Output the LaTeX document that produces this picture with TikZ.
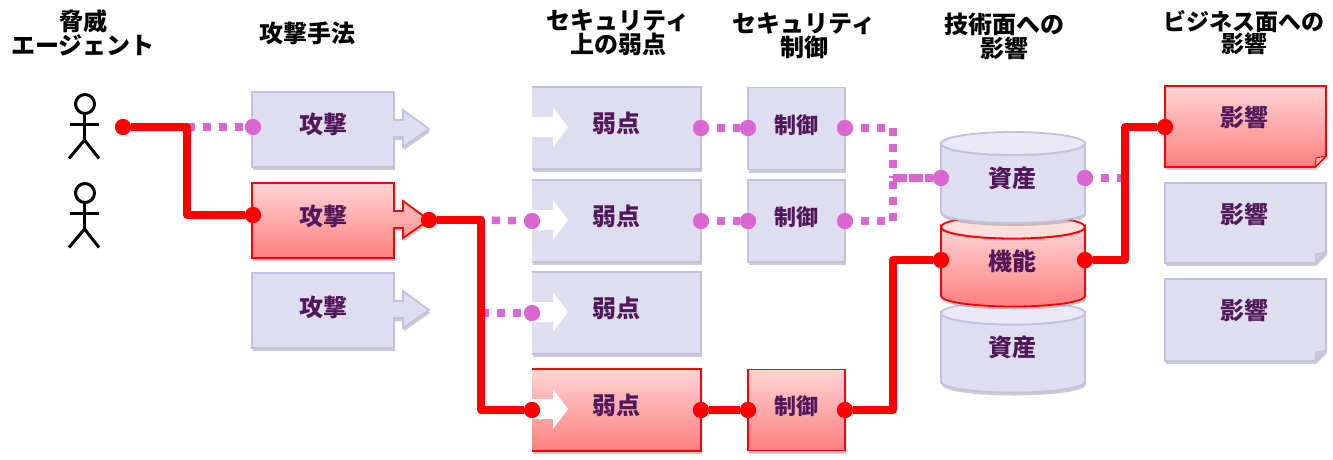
\documentclass[tikz,border=0pt]{standalone}
\usepackage{fontspec}
\setmainfont{Noto Sans CJK JP}
\usetikzlibrary{shadows}
\definecolor{lavfill}{HTML}{DFDDF0}
\definecolor{lavline}{HTML}{C5C0E0}
\definecolor{lavcap}{HTML}{EAE9F5}
\definecolor{lavfold}{HTML}{CBC8E2}
\definecolor{pinkline}{HTML}{DA66D2}
\definecolor{labelcol}{HTML}{51185A}
\tikzset{
    boxshadow/.style={drop shadow={shadow xshift=1pt,shadow yshift=-3pt,opacity=.4}},
    lavbox/.style={draw=lavline,line width=1.8pt,fill=lavfill,boxshadow,inner sep=0pt},
    redbox/.style={draw=red,line width=1.8pt,top color=red!17,bottom color=red!50,boxshadow,inner sep=0pt},
    lavopen/.style={fill=lavfill,boxshadow,inner sep=0pt},
    redopen/.style={top color=red!17,bottom color=red!50,boxshadow,inner sep=0pt},
    lavedge/.style={draw=lavline,line width=1.8pt},
    rededge/.style={draw=red,line width=1.8pt},
    lavcapst/.style={draw=lavline,line width=1.8pt,fill=lavcap},
    redcapst/.style={draw=red,line width=1.8pt,fill=red!13},
    lavfoldst/.style={draw=lavline,line width=1pt,fill=lavfold},
    redfoldst/.style={draw=red,line width=1pt,fill=red!30},
    title/.style={font=\fontsize{24}{22}\selectfont\bfseries,align=center,inner sep=0pt},
    lbl/.style={font=\fontsize{24}{24}\selectfont\bfseries,text=labelcol,inner sep=0pt},
    reddot/.style={circle,fill=red,minimum size=16pt,inner sep=0pt},
    pinkdot/.style={circle,fill=pinkline,minimum size=16pt,inner sep=0pt},
    redline/.style={draw=red,line width=7.5pt,line join=round,
        preaction={draw=black,opacity=.28,transform canvas={xshift=1pt,yshift=-2.5pt}}},
    pinkln/.style={draw=pinkline,line width=7.5pt,dash pattern=on 8pt off 8pt},
    pinkgap/.style={pinkln,dash phase=8pt},
    pinklong/.style={draw=pinkline,line width=7.5pt,dash pattern=on 13.5pt off 2.5pt},
}
\begin{document}
\begin{tikzpicture}[x=1pt,y=-1pt]
    \useasboundingbox (0,0) rectangle (1333,459);

    % headings
    \node[title] (headagent) at (83,33) {脅威\\エージェント};
    \node[title] (headattack) at (307,33) {攻撃手法};
    \node[title] (headvuln) at (618,33) {セキュリティ\\上の弱点};
    \node[title] (headctrl) at (804,36) {セキュリティ\\制御};
    \node[title] (headtech) at (1004,36) {技術面への\\影響};
    \node[title,font=\fontsize{23}{22}\selectfont\bfseries] (headbiz) at (1244,32.5) {ビジネス面への\\影響};

    % agents
    \foreach \y in {0,89}{
            \draw[line width=3pt] (85,104+\y) circle (9.5);
            \draw[line width=3pt] (84.5,113.5+\y) -- (84.5,140+\y);
            \draw[line width=3pt] (69.5,124+\y) -- (98.5,124+\y);
            \draw[line width=3pt] (69,158.5+\y) -- (84.5,140+\y) -- (99,158.5+\y);
        }

    % attacks
    \foreach \i/\y/\ty/\sty in {1/92/124/lavbox,2/183/216/redbox,3/273/307/lavbox}{
            \path[\sty] (252,\y) -- (394,\y) -- (394,\y+28) -- (403,\y+28) -- (403,\y+18)
                -- (429,\y+37) -- (403,\y+55) -- (403,\y+45) -- (394,\y+45) -- (394,\y+75)
                -- (252,\y+75) -- cycle;
            \node[lbl] (attack\i) at (323,\ty) {攻撃};
        }

    % weaknesses, no line on their left side
    \node[lavopen,minimum width=169pt,minimum height=81pt] (vuln1) at (616.5,128) {};
    \node[lavopen,minimum width=169pt,minimum height=81pt] (vuln2) at (616.5,221) {};
    \node[lavopen,minimum width=169pt,minimum height=82pt] (vuln3) at (616.5,313) {};
    \node[redopen,minimum width=169pt,minimum height=81pt] (vuln4) at (616.5,410) {};
    \foreach \i/\y/\edge in {1/127/lavedge,2/220/lavedge,3/312/lavedge,4/409/rededge}{
            \draw[\edge] (vuln\i.north west) -- (vuln\i.north east) -- (vuln\i.south east) -- (vuln\i.south west);
            \fill[white] (532,\y-10) -- (553,\y-10) -- (553,\y-20) -- (568,\y)
                -- (553,\y+20) -- (553,\y+10) -- (532,\y+10) -- cycle;
            \node[lbl] (vulntext\i) at (616,\y-4) {弱点};
        }

    % controls
    \node[lavbox,minimum width=97pt,minimum height=82pt] (ctrl1) at (796.5,128.5) {};
    \node[lavbox,minimum width=97pt,minimum height=82pt] (ctrl2) at (796.5,221) {};
    \node[redbox,minimum width=97pt,minimum height=81pt] (ctrl3) at (796.5,410) {};
    \foreach \i/\y in {1/125,2/217,3/406}{
            \node[lbl,font=\fontsize{22}{22}\selectfont\bfseries] (ctrltext\i) at (796,\y) {制御};
        }

    % assets, the lowest one first
    \foreach \t/\sty/\capsty/\txt/\ty/\nm in {313/lavbox/lavcapst/資産/347/asset3,227/redbox/redcapst/機能/261/asset2,143.5/lavbox/lavcapst/資産/178/asset1}{
            \path[\sty] (941,\t) -- (941,\t+69) arc[start angle=180,end angle=0,x radius=72,y radius=10.5]
                -- (1085,\t) arc[start angle=0,end angle=180,x radius=72,y radius=11.5] -- cycle;
            \draw[\capsty] (1013,\t) ellipse [x radius=72,y radius=11.5];
            \node[lbl] (\nm) at (1012,\ty) {\txt};
        }

    % impacts
    \foreach \i/\y/\h/\sty/\foldsty in {1/86/81/redbox/redfoldst,2/183/80/lavbox/lavfoldst,3/279/82/lavbox/lavfoldst}{
            \path[\sty] (1165,\y) -- (1326,\y) -- (1326,\y+\h-11) -- (1315,\y+\h) -- (1165,\y+\h) -- cycle;
            \path[\foldsty] (1326,\y+\h-11) -- (1316,\y+\h-9) -- (1315,\y+\h) -- cycle;
            \node[lbl] (impact\i) at (1244,\y+31) {影響};
        }

    % end points of the connectors
    \node[reddot] (agentout) at (123,127) {};
    \node[pinkdot] (attackin1) at (253,127) {};
    \node[reddot] (attackin2) at (253,215) {};
    \node[reddot] (attackout) at (429,220) {};
    \node[pinkdot] (vulnin2) at (532,221) {};
    \node[pinkdot] (vulnin3) at (532,313) {};
    \node[reddot] (vulnin4) at (532,410) {};
    \node[pinkdot] (vulnout1) at (701,128) {};
    \node[pinkdot] (vulnout2) at (701,221) {};
    \node[reddot] (vulnout4) at (701,410) {};
    \node[pinkdot] (ctrlin1) at (748,128) {};
    \node[pinkdot] (ctrlin2) at (748,221) {};
    \node[reddot] (ctrlin3) at (748,410) {};
    \node[pinkdot] (ctrlout1) at (845,128) {};
    \node[pinkdot] (ctrlout2) at (845,221) {};
    \node[reddot] (ctrlout3) at (845,410) {};
    \node[pinkdot] (assetin1) at (941,178) {};
    \node[pinkdot] (assetout1) at (1085,178) {};
    \node[reddot] (assetin2) at (941,260) {};
    \node[reddot] (assetout2) at (1085,260) {};
    \node[reddot] (impactin1) at (1165,127) {};
    \coordinate (busa) at (187,127);
    \coordinate (busb) at (481,220);
    \coordinate (busd) at (893,260);
    \coordinate (buse) at (1125,127);
    \coordinate (junction) at (893,178);
    \coordinate (branchb) at (481,313);
    \coordinate (branche) at (1125,178);

    % dotted connectors
    \draw[pinkln] (busa) -- (attackin1);
    \draw[pinkgap] (vulnin2) -- (busb);
    \draw[pinkln] (branchb) -- (vulnin3);
    \draw[pinkgap] (vulnout1) -- (ctrlin1);
    \draw[pinkgap] (vulnout2) -- (ctrlin2);
    \draw[pinkgap] (ctrlout1) -| (junction);
    \draw[pinkgap] (ctrlout2) -| (junction);
    \draw[pinklong] (junction) -- (assetin1);
    \draw[pinkgap] (assetout1) -- (branche);

    % solid connectors
    \draw[redline] (agentout) -- (busa) |- (attackin2);
    \draw[redline] (attackout) -- (busb) |- (vulnin4);
    \draw[redline] (vulnout4) -- (ctrlin3);
    \draw[redline] (ctrlout3) -| (busd) -- (assetin2);
    \draw[redline] (assetout2) -| (buse) -- (impactin1);

    % dots again, over the lines
    \foreach \d in {agentout,attackin2,attackout,vulnin4,vulnout4,ctrlin3,ctrlout3,assetin2,assetout2,impactin1}{
            \node[reddot] at (\d) {};
        }
    \foreach \d in {attackin1,vulnin2,vulnin3,vulnout1,vulnout2,ctrlin1,ctrlin2,ctrlout1,ctrlout2,assetin1,assetout1}{
            \node[pinkdot] at (\d) {};
        }
\end{tikzpicture}
\end{document}
